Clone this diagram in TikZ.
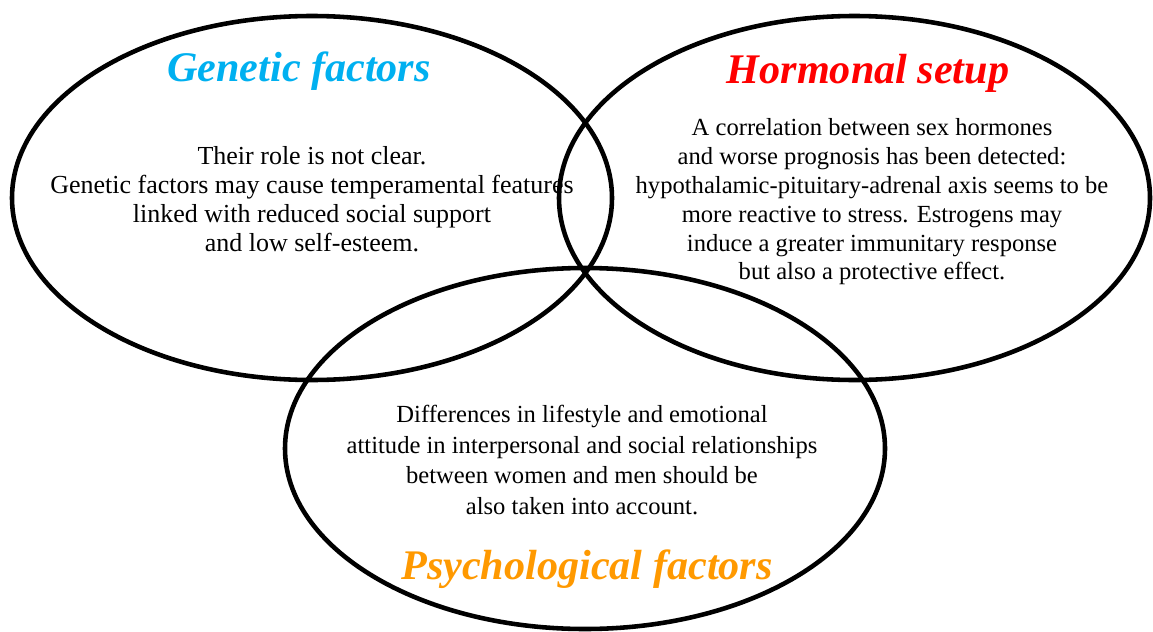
\documentclass[tikz,border=0pt]{standalone}
\usepackage{fontspec}
\setmainfont{Liberation Serif}
\definecolor{gencol}{RGB}{0,176,240}
\definecolor{horcol}{RGB}{255,0,0}
\definecolor{psycol}{RGB}{255,153,0}
\begin{document}
\begin{tikzpicture}[x=0.02cm,y=-0.02cm,
  ring/.style={draw=black,line width=2.6pt},
  title/.style={font=\fontsize{24}{28}\selectfont\bfseries\itshape,inner sep=0pt},
  body/.style={font=\fontsize{14.8}{16.5}\selectfont,align=center,inner sep=0pt},
  bodyhor/.style={font=\fontsize{14}{16.4}\selectfont,align=center,inner sep=0pt},
  bodypsy/.style={font=\fontsize{14}{17.6}\selectfont,align=center,inner sep=0pt}]
\useasboundingbox (0,0) rectangle (1153,632);
\draw[ring] (312,198) ellipse [x radius=300,y radius=182];
\draw[ring] (854.5,198) ellipse [x radius=295.5,y radius=182];
\draw[ring] (585,448.5) ellipse [x radius=300,y radius=180.5];
\node[title,text=gencol] (gt) at (299,71) {Genetic factors};
\node[title,text=horcol] (ht) at (868,73) {Hormonal setup};
\node[title,text=psycol] (pt) at (587,569) {Psychological factors};
\node[body] (gb) at (312,199) {Their role is not clear.\\Genetic factors may cause temperamental features\\linked with reduced social support\\and low self-esteem.};
\node[bodyhor] (hb) at (872,202) {A correlation between sex hormones\\and worse prognosis has been detected:\\hypothalamic-pituitary-adrenal axis seems to be\\more reactive to stress. Estrogens may\\induce a greater immunitary response\\but also a protective effect.};
\node[bodypsy] (pb) at (582,460) {Differences in lifestyle and emotional\\attitude in interpersonal and social relationships\\between women and men should be\\also taken into account.};
\end{tikzpicture}
\end{document}
